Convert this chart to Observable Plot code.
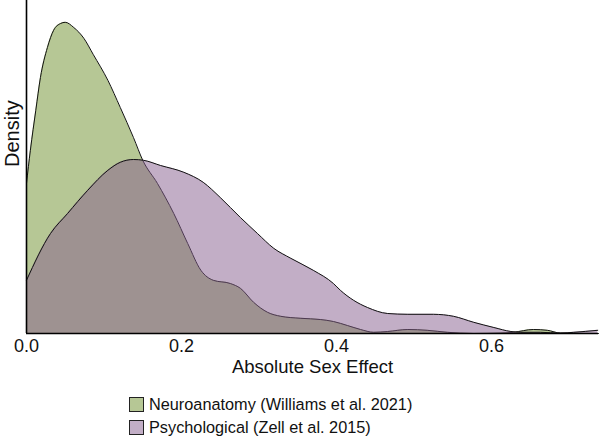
<!DOCTYPE html>
<html>
<head>
<meta charset="utf-8">
<script src="https://cdn.jsdelivr.net/npm/d3@7"></script>
<script src="https://cdn.jsdelivr.net/npm/@observablehq/plot@0.6"></script>
<style>
  body { margin: 0; background: #fff; font-family: "Liberation Sans", Arial, sans-serif; }
  #legend { margin-left: 129px; margin-top: 8px; font-size: 16.3px; color: #111; }
  .row { display: flex; align-items: center; height: 23px; }
  .sw { width: 13px; height: 13px; border: 1px solid #222; margin-right: 5px; }
</style>
</head>
<body>
<div id="chart"></div>
<div id="legend"></div>
<script>
// Neuroanatomy (Williams et al. 2021)
const neuroX = [0.000,0.005,0.012,0.018,0.027,0.035,0.044,0.050,0.061,0.074,0.086,0.105,0.121,0.138,0.150,0.169,0.190,0.208,0.225,0.241,0.263,0.276,0.293,0.311,0.328,0.354,0.379,0.396,0.414,0.431,0.448,0.466,0.492,0.517,0.543,0.577,0.612,0.628,0.654,0.672,0.689,0.738];
const neuroDensity = [3.75,4.58,5.58,6.40,7.15,7.58,7.75,7.78,7.65,7.38,6.98,6.33,5.65,4.90,4.33,3.75,3.00,2.25,1.58,1.33,1.25,1.13,0.78,0.53,0.43,0.38,0.35,0.30,0.20,0.10,0.03,0.05,0.10,0.08,0.03,0.00,0.01,0.03,0.10,0.08,0.01,0.00];
// Psychological (Zell et al. 2015)
const psychX = [0.000,0.031,0.053,0.079,0.105,0.121,0.138,0.151,0.173,0.203,0.228,0.250,0.276,0.298,0.319,0.341,0.370,0.396,0.405,0.422,0.440,0.466,0.492,0.525,0.551,0.577,0.603,0.625,0.637,0.663,0.689,0.706,0.737];
const psychDensity = [1.33,2.50,3.00,3.58,4.08,4.28,4.35,4.33,4.20,4.03,3.78,3.40,2.90,2.50,2.13,1.88,1.58,1.25,1.08,0.83,0.65,0.50,0.48,0.48,0.43,0.28,0.15,0.05,0.03,0.03,0.01,0.03,0.08];

const xTicks = [0, 0.2, 0.4, 0.6];
const seriesNames = ["Neuroanatomy (Williams et al. 2021)", "Psychological (Zell et al. 2015)"];
const seriesColors = ["#6d8f2b", "#855d8d"];
const legendColors = ["#b6c795", "#c2aec6"];

const neuro = neuroX.map((x, i) => ({x, y: neuroDensity[i]}));
const psych = psychX.map((x, i) => ({x, y: psychDensity[i]}));

const curve = "monotone-x";
const chart = Plot.plot({
  width: 608,
  height: 385,
  marginLeft: 26,
  marginRight: 10,
  marginTop: 0,
  marginBottom: 52,
  style: {fontFamily: "'Liberation Sans', Arial, sans-serif", color: "#111"},
  x: {domain: [0, 0.738]},
  y: {domain: [0, 8.325], axis: null},
  marks: [
    Plot.areaY(neuro, {x: "x", y: "y", fill: seriesColors[0], fillOpacity: 0.5, curve}),
    Plot.lineY(neuro, {x: "x", y: "y", stroke: "#111", strokeWidth: 1, curve}),
    Plot.areaY(psych, {x: "x", y: "y", fill: seriesColors[1], fillOpacity: 0.5, curve}),
    Plot.lineY(psych, {x: "x", y: "y", stroke: "#111", strokeWidth: 1, curve}),
    Plot.ruleY([0], {stroke: "#000", strokeWidth: 1.6}),
    Plot.ruleX([0], {stroke: "#000", strokeWidth: 1.6}),
    Plot.axisX({ticks: xTicks, tickFormat: d3.format(".1f"), tickSize: 0, tickPadding: 6, fontSize: 18, label: null}),
    Plot.text(["Absolute Sex Effect"], {frameAnchor: "bottom", dy: 39, fontSize: 18.5, fill: "#111"}),
    Plot.text(["Density"], {frameAnchor: "left", dx: -14, rotate: -90, fontSize: 20, fill: "#111"})
  ]
});
document.getElementById("chart").appendChild(chart);

const legend = document.getElementById("legend");
seriesNames.forEach((name, i) => {
  const row = document.createElement("div");
  row.className = "row";
  const sw = document.createElement("div");
  sw.className = "sw";
  sw.style.background = legendColors[i];
  const t = document.createElement("span");
  t.textContent = name;
  row.appendChild(sw);
  row.appendChild(t);
  legend.appendChild(row);
});
</script>
</body>
</html>
